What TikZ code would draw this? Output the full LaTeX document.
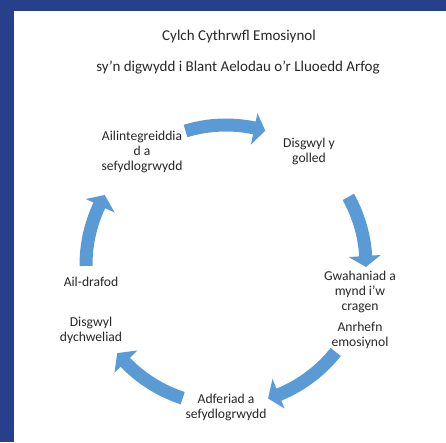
\documentclass[tikz,border=0pt]{standalone}
\usepackage{fontspec}
\setmainfont{Carlito}
\usetikzlibrary{calc}

\definecolor{frameblue}{RGB}{38,64,140}
\definecolor{arrowblue}{RGB}{91,155,213}

% curved block arrow round (ctr): tail angle, head base angle, tip angle
\newcommand{\cyclearrow}[3]{%
  \fill[arrowblue] ($(ctr)+(#1:133.5pt)$) arc[start angle=#1, end angle=#2, radius=133.5pt]
    -- ($(ctr)+(#2:123pt)$) -- ($(ctr)+(#3:140pt)$) -- ($(ctr)+(#2:155pt)$)
    -- ($(ctr)+(#2:146.5pt)$) arc[start angle=#2, end angle=#1, radius=146.5pt] -- cycle;}

\begin{document}
\begin{tikzpicture}[x=1pt,y=1pt,
  lbl/.style={align=center,inner sep=0pt,text=black!85,font=\fontsize{13.6}{15}\selectfont},
  ttl/.style={inner sep=0pt,text=black!85,font=\fontsize{15}{18}\selectfont}]
  \useasboundingbox (0,0) rectangle (446,442);
  \fill[frameblue] (0,431) rectangle (446,442);
  \fill[frameblue] (0,0) rectangle (14,442);

  \node[ttl] (title) at (239,405) {Cylch Cythrwfl Emosiynol};
  \node[ttl] (subtitle) at (238,374) {sy’n digwydd i Blant Aelodau o’r Lluoedd Arfog};

  \coordinate (ctr) at (226,177);

  \node[lbl] (reint) at (142,290) {Ailintegreiddia\\d a\\sefydlogrwydd};
  \node[lbl] (expect) at (309,290.5) {Disgwyl y\\golled};
  \node[lbl] (sep) at (360,150) {Gwahaniad a\\mynd i’w\\cragen};
  \node[lbl] (disorg) at (360,106.5) {Anrhefn\\emosiynol};
  \node[lbl] (recov) at (226,34.5) {Adferiad a\\sefydlogrwydd};
  \node[lbl] (return) at (91,112) {Disgwyl\\dychweliad};
  \node[lbl] (renego) at (91,160) {Ail-drafod};

  \cyclearrow{106.8}{78.3}{73.7}
  \cyclearrow{29.1}{3.7}{-0.8}
  \cyclearrow{-38.4}{-67.8}{-72.5}
  \cyclearrow{-108}{-136}{-141}
  \cyclearrow{180.4}{154.8}{150}

\end{tikzpicture}
\end{document}
